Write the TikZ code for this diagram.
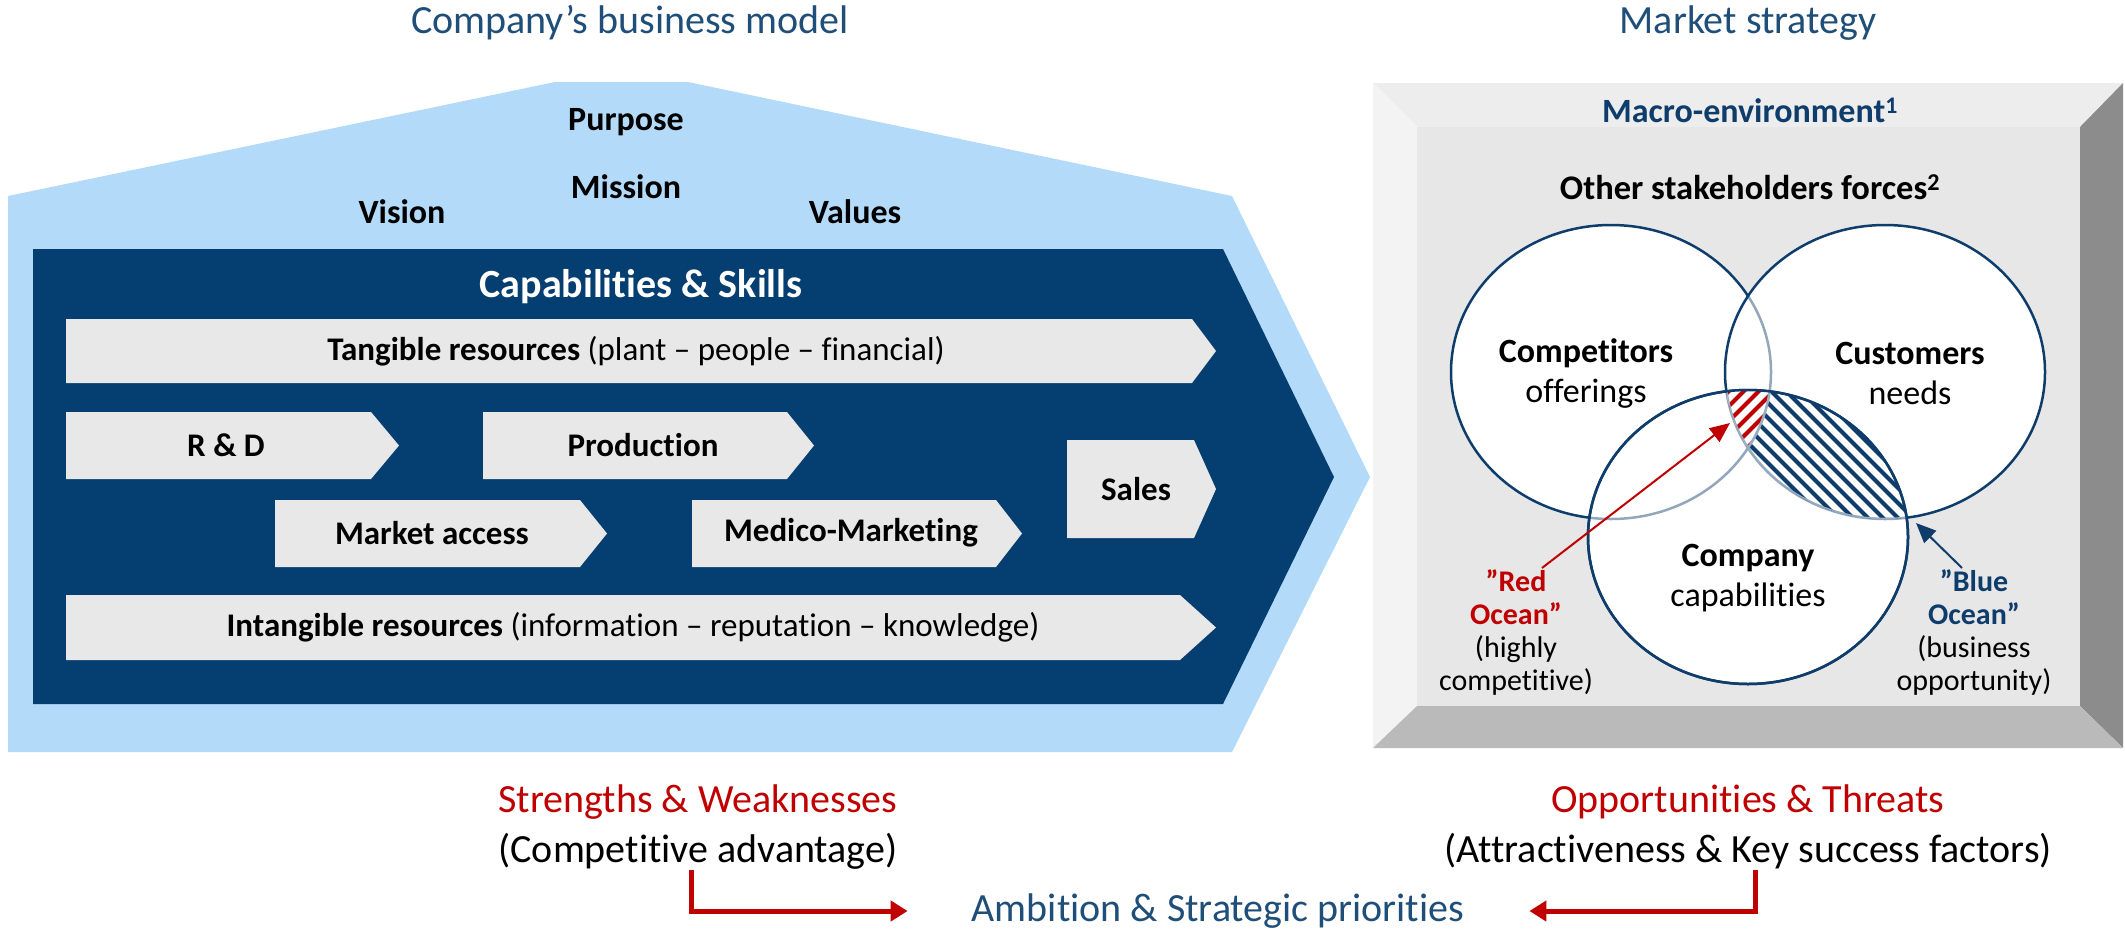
\documentclass[tikz,border=0pt]{standalone}
\usepackage{fontspec}
\setmainfont{Carlito}[Ligatures=NoCommon]
\usetikzlibrary{arrows.meta}
\definecolor{navy}{HTML}{053E70}
\definecolor{sky}{HTML}{B3DBF9}
\definecolor{titleblue}{HTML}{1F4E79}
\definecolor{barfill}{HTML}{E8E8E8}
\definecolor{alert}{HTML}{C00000}
\definecolor{ring}{HTML}{0E3C6B}
\definecolor{ringpale}{HTML}{9AAEC2}
\definecolor{face}{HTML}{E7E7E7}
\definecolor{bevtop}{HTML}{EDEDED}
\definecolor{bevleft}{HTML}{F3F3F3}
\definecolor{bevright}{HTML}{8C8C8C}
\definecolor{bevbottom}{HTML}{BABABA}

\begin{document}
\begin{tikzpicture}[x=1pt,y=-1pt,
    every node/.style={inner sep=1pt},
    title/.style={font=\fontsize{40}{46}\selectfont, text=titleblue},
    roofword/.style={font=\fontsize{34}{40}\selectfont\bfseries},
    bartext/.style={font=\fontsize{33}{40}\selectfont},
    barbold/.style={font=\fontsize{33}{40}\selectfont\bfseries},
    venn/.style={align=center, font=\fontsize{34}{40}\selectfont},
    ocean/.style={align=center, font=\fontsize{30}{33}\selectfont},
    swot/.style={font=\fontsize{40}{46}\selectfont, text=alert},
    note/.style={font=\fontsize{40}{46}\selectfont},
    elbow/.style={alert, line width=5pt, -{Triangle[length=17pt,width=20pt]}},
    pointer/.style={line width=2pt, -{Triangle[length=20pt,width=17pt]}},
    ringline/.style={ring, line width=2.5pt}
  ]
    \useasboundingbox (0,0) rectangle (2125,932);

    % business model house
    \fill[sky] (8,196) -- (555,82) -- (688,82) -- (1232,196) -- (1370,477) -- (1232,752) -- (8,752) -- cycle;
    \fill[navy] (33,249) -- (1223,249) -- (1334,477) -- (1223,704) -- (33,704) -- cycle;
    \foreach \x/\y/\w/\h/\t in {66/319/1126/64/24, 66/412/305/67/28, 483/412/304/67/27,
        275/500/305/67/27, 692/500/304/67/26, 1067/440/127/98/22, 66/595/1114/65/36}
      \fill[barfill] (\x,\y) -- ++(\w,0) -- ++(\t,\h/2) -- ++(-\t,\h/2) -- ++(-\w,0) -- cycle;

    \node[title] (bizmodel) at (630,23) {Company’s business model};
    \node[roofword] (purpose) at (626,122) {Purpose};
    \node[roofword] (mission) at (626,187) {Mission};
    \node[roofword] (vision) at (402,212) {Vision};
    \node[roofword] (values) at (855,212) {Values};
    \node[font=\fontsize{40}{46}\selectfont\bfseries, text=white] (capab) at (641,287) {Capabilities \& Skills};
    \node[bartext] (tangible) at (636,351) {\textbf{Tangible resources} (plant – people – financial)};
    \node[barbold] (rnd) at (226,445) {R \& D};
    \node[barbold] (prod) at (643,445) {Production};
    \node[barbold] (access) at (432,533) {Market access};
    \node[barbold] (medico) at (851,533) {Medico-Marketing};
    \node[barbold] (sales) at (1136,489) {Sales};
    \node[bartext] (intangible) at (633,627) {\textbf{Intangible resources} (information – reputation – knowledge)};

    % market strategy panel
    \fill[face] (1417,127) rectangle (2080,706);
    \fill[bevtop] (1373,83) -- (2123,83) -- (2080,127) -- (1417,127) -- cycle;
    \fill[bevleft] (1373,83) -- (1417,127) -- (1417,706) -- (1373,748) -- cycle;
    \fill[bevright] (2123,83) -- (2123,748) -- (2080,706) -- (2080,127) -- cycle;
    \fill[bevbottom] (1373,748) -- (2123,748) -- (2080,706) -- (1417,706) -- cycle;

    \node[title] (mktstrat) at (1748,23) {Market strategy};
    \node[font=\fontsize{34}{40}\selectfont\bfseries, text=ring] (macro) at (1750,110) {Macro-environment\textsuperscript{1}};
    \node[font=\fontsize{34.5}{40}\selectfont\bfseries] (forces) at (1750,187) {Other stakeholders forces\textsuperscript{2}};

    \foreach \cx/\cy in {1611/372, 1885/372, 1748/537}
      \fill[white] (\cx,\cy) ellipse [x radius=160, y radius=147];
    \foreach \cx/\cy in {1611/372, 1885/372, 1748/537} {
      \fill[white, fill opacity=0.55] (\cx,\cy) ellipse [x radius=160, y radius=147];
      \draw[ringline] (\cx,\cy) ellipse [x radius=160, y radius=147];
    }
    % hatched overlaps
    \begin{scope}
      \clip (1885,372) ellipse [x radius=160, y radius=147];
      \clip (1748,537) ellipse [x radius=160, y radius=147];
      \foreach \a in {1540,1555,...,1920}
        \draw[ring, line width=4pt] (\a,370) -- ++(180,180);
      \begin{scope}
        \clip (1611,372) ellipse [x radius=160, y radius=147];
        \fill[white] (1700,370) rectangle (1800,480);
        \foreach \a in {1540,1555,...,1790}
          \draw[alert, line width=4pt] (\a,550) -- ++(180,-180);
      \end{scope}
      \draw[ringpale, line width=2.5pt] (1611,372) ellipse [x radius=160, y radius=147];
      \draw[ringpale, line width=2.5pt] (1885,372) ellipse [x radius=160, y radius=147];
    \end{scope}
    \draw[ringline] (1748,537) ellipse [x radius=160, y radius=147];

    \node[venn] (competitors) at (1586,373) {\textbf{Competitors}\\offerings};
    \node[venn] (customers) at (1910,373) {\textbf{Customers}\\needs};
    \node[venn] (company) at (1748,578) {\textbf{Company}\\capabilities};
    \node[ocean] (redocean) at (1516,632) {\textcolor{alert}{\textbf{”Red}}\\\textcolor{alert}{\textbf{Ocean”}}\\(highly\\competitive)};
    \node[ocean] (blueocean) at (1974,632) {\textcolor{ring}{\textbf{”Blue}}\\\textcolor{ring}{\textbf{Ocean”}}\\(business\\opportunity)};
    \coordinate (redtip) at (1730,423);
    \coordinate (bluetip) at (1916,523);
    \draw[pointer, alert] ([xshift=26pt]redocean.north) -- (redtip);
    \draw[pointer, ring] ([xshift=-12pt]blueocean.north) -- (bluetip);

    % conclusions
    \node[swot] (sw) at (698,802) {Strengths \& Weaknesses};
    \node[note] (advantage) at (698,851) {(Competitive advantage)};
    \node[swot] (ot) at (1748,802) {Opportunities \& Threats};
    \node[note] (factors) at (1748,851) {(Attractiveness \& Key success factors)};
    \node[title] (ambition) at (1218,911) {Ambition \& Strategic priorities};
    \draw[elbow] ([xshift=-7pt]advantage.south) |- ([xshift=-63pt]ambition.west);
    \draw[elbow] ([xshift=7pt]factors.south) |- ([xshift=64pt]ambition.east);
\end{tikzpicture}
\end{document}
